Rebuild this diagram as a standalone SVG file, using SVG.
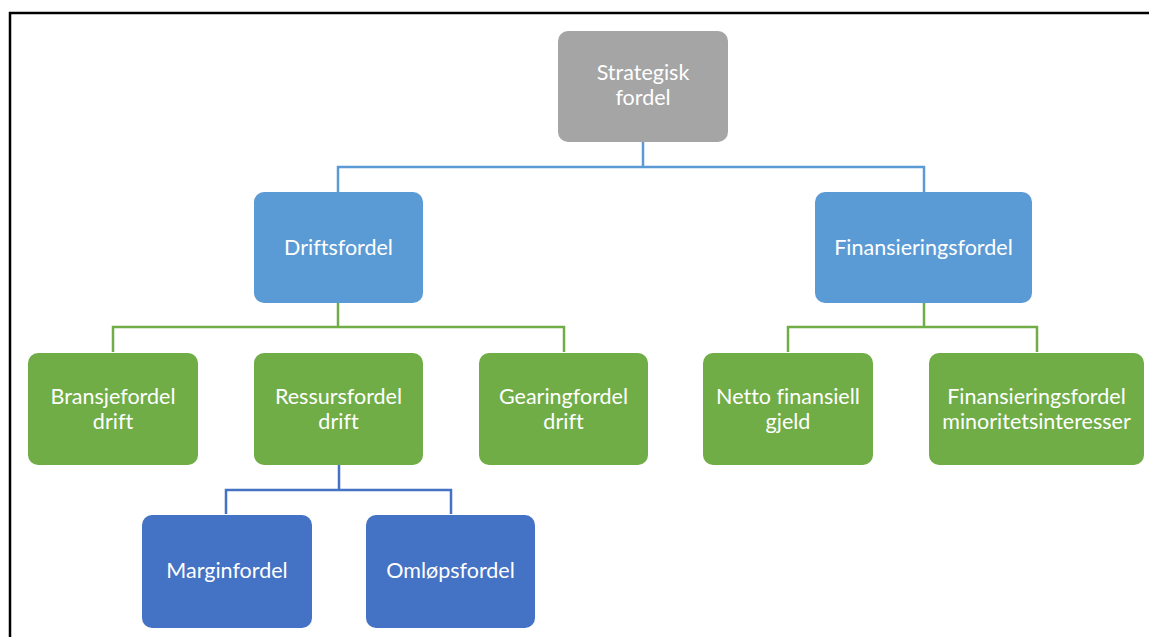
<svg xmlns="http://www.w3.org/2000/svg" width="1149" height="637" viewBox="0 0 1149 637">
<style>
.g{fill:#A5A5A5}
.b{fill:#5B9BD5}
.gr{fill:#70AD47}
.db{fill:#4472C4}
text{font-family:Lato,"Liberation Sans",sans-serif;font-size:21.5px;fill:#FFFFFF;text-anchor:middle;font-variant-ligatures:none}
.c{fill:none;stroke-width:2.5}
</style>
<rect x="0" y="0" width="1149" height="637" fill="#FFFFFF"/>
<path d="M10 637 V13 H1149" fill="none" stroke="#000" stroke-width="2.5"/>
<g id="connectors">
<path class="c" stroke="#5B9BD5" d="M643 142 V167 M338 192 V167 H924 V192"/>
<path class="c" stroke="#70AD47" d="M338 303 V327 M113 352 V327 H564 V352"/>
<path class="c" stroke="#70AD47" d="M924 303 V327 M788 352 V327 H1037 V352"/>
<path class="c" stroke="#4472C4" d="M339 465 V490 M226 514 V490 H451 V514"/>
</g>
<g id="n-strategisk"><rect class="g" x="558" y="31" width="170" height="111" rx="10"/><text x="643" y="80">Strategisk</text><text x="643" y="105">fordel</text></g>
<g id="n-drift"><rect class="b" x="254" y="192" width="169" height="111" rx="10"/><text x="338.5" y="255">Driftsfordel</text></g>
<g id="n-finans"><rect class="b" x="815" y="192" width="217" height="111" rx="10"/><text x="923.5" y="255">Finansieringsfordel</text></g>
<g id="n-bransje"><rect class="gr" x="28" y="353" width="170" height="112" rx="10"/><text x="113" y="404">Bransjefordel</text><text x="113" y="429">drift</text></g>
<g id="n-ressurs"><rect class="gr" x="254" y="353" width="169" height="112" rx="10"/><text x="338.5" y="404">Ressursfordel</text><text x="338.5" y="429">drift</text></g>
<g id="n-gearing"><rect class="gr" x="479" y="353" width="169" height="112" rx="10"/><text x="563.5" y="404">Gearingfordel</text><text x="563.5" y="429">drift</text></g>
<g id="n-netto"><rect class="gr" x="703" y="353" width="170" height="112" rx="10"/><text x="788" y="404">Netto finansiell</text><text x="788" y="429">gjeld</text></g>
<g id="n-minoritet"><rect class="gr" x="929" y="353" width="215" height="112" rx="10"/><text x="1036.5" y="404">Finansieringsfordel</text><text x="1036.5" y="429">minoritetsinteresser</text></g>
<g id="n-margin"><rect class="db" x="142" y="515" width="170" height="113" rx="10"/><text x="227" y="578">Marginfordel</text></g>
<g id="n-omlop"><rect class="db" x="366" y="515" width="169" height="113" rx="10"/><text x="450.5" y="578">Omløpsfordel</text></g>
</svg>
